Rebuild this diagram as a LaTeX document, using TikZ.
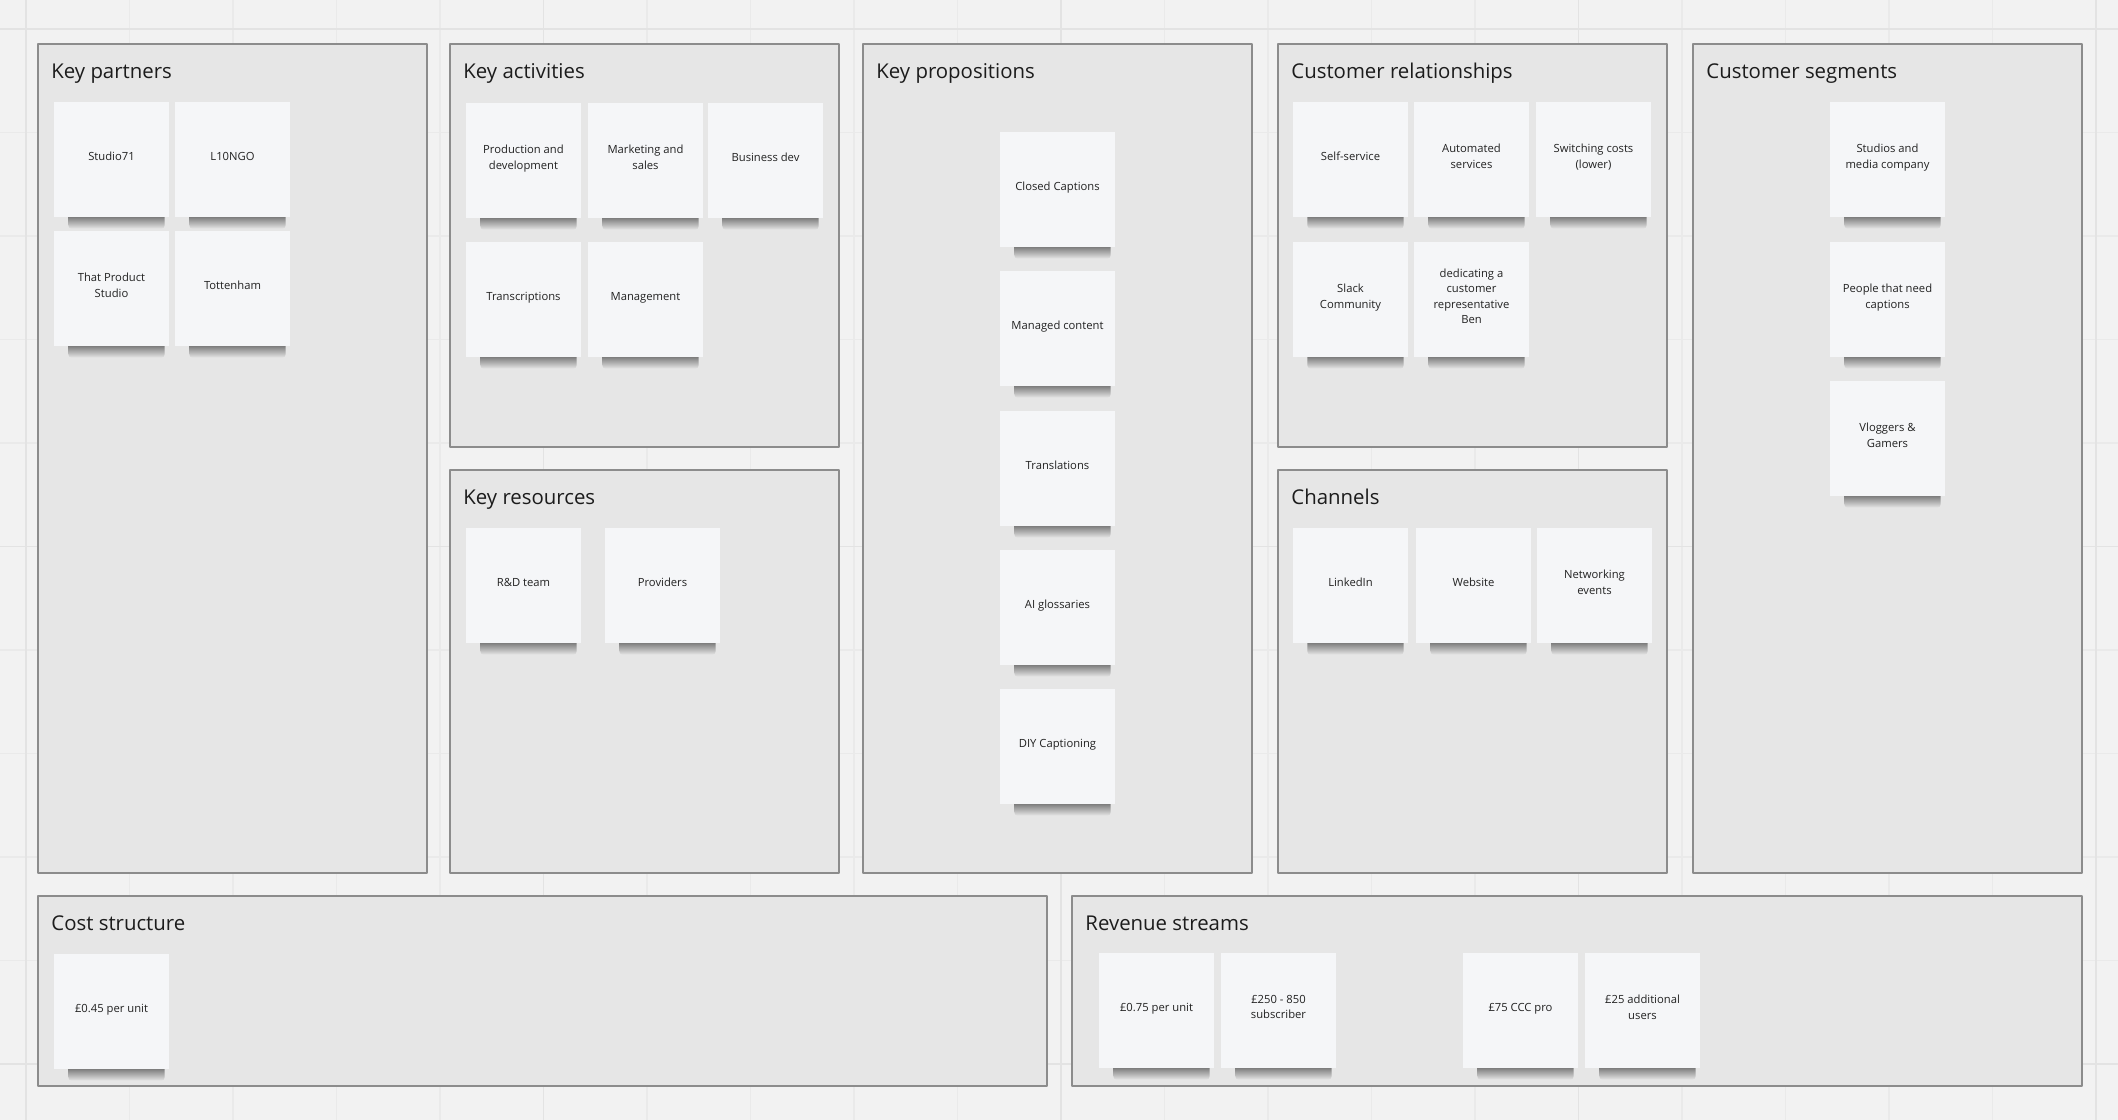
\documentclass[tikz,border=0pt]{standalone}
\usepackage{fontspec}
\setmainfont{Open Sans}

\definecolor{boardbg}{HTML}{F2F2F2}
\definecolor{gridminor}{HTML}{EAEAEA}
\definecolor{gridmajor}{HTML}{E3E3E3}
\definecolor{framefill}{HTML}{E6E6E6}
\definecolor{frameline}{HTML}{8C8C8C}
\definecolor{notefill}{HTML}{F5F6F8}
\definecolor{titletext}{HTML}{1C1C1C}
\definecolor{notetext}{HTML}{222222}

\pgfdeclarelayer{notes}
\pgfsetlayers{main,notes}

\begin{document}
\begin{tikzpicture}[x=1cm, y=-1cm, line join=round,
  frame/.style={fill=framefill, draw=frameline, line width=0.4pt},
  title/.style={anchor=base west, inner sep=0pt, text=titletext, font=\fontsize{5.8}{7}\selectfont},
  note/.style={fill=notefill, minimum width=1.15cm, minimum height=1.15cm, inner sep=0pt, align=center, text=notetext, font=\fontsize{3.2}{4.3}\selectfont, execute at end node={\rule[-0.065cm]{0pt}{0pt}}},
  noteshadow/.style={top color=black!62, bottom color=framefill, rounded corners=0.035cm}]

\useasboundingbox (0,0) rectangle (21.18,11.2);
\fill[boardbg] (0,0) rectangle (21.18,11.2);

% board grid
\foreach \i in {0,...,20}
  \draw[gridminor, line width=0.3pt] ({0.26+1.035*\i},0) -- ({0.26+1.035*\i},11.2);
\foreach \j in {0,...,10}
  \draw[gridminor, line width=0.3pt] (0,{0.29+1.035*\j}) -- (21.18,{0.29+1.035*\j});
\foreach \i in {0,...,4}
  \draw[gridmajor, line width=0.5pt] ({0.26+5.175*\i},0) -- ({0.26+5.175*\i},11.2);
\foreach \j in {0,1,2}
  \draw[gridmajor, line width=0.5pt] (0,{0.29+5.175*\j}) -- (21.18,{0.29+5.175*\j});

% canvas blocks
\draw[frame] (0.38,0.44) rectangle (4.27,8.73);
\draw[frame] (4.50,0.44) rectangle (8.39,4.47);
\draw[frame] (4.50,4.70) rectangle (8.39,8.73);
\draw[frame] (8.63,0.44) rectangle (12.52,8.73);
\draw[frame] (12.78,0.44) rectangle (16.67,4.47);
\draw[frame] (12.78,4.70) rectangle (16.67,8.73);
\draw[frame] (16.93,0.44) rectangle (20.82,8.73);
\draw[frame] (0.38,8.96) rectangle (10.47,10.86);
\draw[frame] (10.72,8.96) rectangle (20.82,10.86);

\node[title] (partnerstitle) at (0.507,0.783) {Key partners};
\node[title] (activitiestitle) at (4.627,0.783) {Key activities};
\node[title] (resourcestitle) at (4.627,5.043) {Key resources};
\node[title] (propositionstitle) at (8.757,0.783) {Key propositions};
\node[title] (relationstitle) at (12.907,0.783) {Customer relationships};
\node[title] (channelstitle) at (12.907,5.043) {Channels};
\node[title] (segmentstitle) at (17.057,0.783) {Customer segments};
\node[title] (coststitle) at (0.507,9.303) {Cost structure};
\node[title] (revenuetitle) at (10.847,9.303) {Revenue streams};

% sticky notes
\begin{pgfonlayer}{notes}
\node[note] (studio) at (1.115,1.595) {Studio71};
\node[note] (longo) at (2.325,1.595) {L10NGO};
\node[note] (thatprod) at (1.115,2.885) {That Product\\Studio};
\node[note] (tottenham) at (2.325,2.885) {Tottenham};

\node[note] (proddev) at (5.235,1.605) {Production and\\development};
\node[note] (marketing) at (6.455,1.605) {Marketing and\\sales};
\node[note] (bizdev) at (7.655,1.605) {Business dev};
\node[note] (transcr) at (5.235,2.995) {Transcriptions};
\node[note] (mgmt) at (6.455,2.995) {Management};

\node[note] (rdteam) at (5.235,5.855) {R\&D team};
\node[note] (providers) at (6.625,5.855) {Providers};

\node[note] (closedcap) at (10.575,1.895) {Closed Captions};
\node[note] (managed) at (10.575,3.285) {Managed content};
\node[note] (translations) at (10.575,4.685) {Translations};
\node[note] (glossaries) at (10.575,6.075) {AI glossaries};
\node[note] (diy) at (10.575,7.465) {DIY Captioning};

\node[note] (selfserv) at (13.505,1.595) {Self-service};
\node[note] (automated) at (14.715,1.595) {Automated\\services};
\node[note] (switching) at (15.935,1.595) {Switching costs\\(lower)};
\node[note] (slack) at (13.505,2.995) {Slack\\Community};
\node[note] (dedicated) at (14.715,2.995) {dedicating a\\customer\\representative\\Ben};

\node[note] (linkedin) at (13.505,5.855) {LinkedIn};
\node[note] (website) at (14.735,5.855) {Website};
\node[note] (networking) at (15.945,5.855) {Networking\\events};

\node[note] (studios) at (18.875,1.595) {Studios and\\media company};
\node[note] (captions) at (18.875,2.995) {People that need\\captions};
\node[note] (vloggers) at (18.875,4.385) {Vloggers \&\\Gamers};

\node[note] (unitcost) at (1.115,10.115) {£0.45 per unit};

\node[note] (unitprice) at (11.565,10.105) {£0.75 per unit};
\node[note] (subscriber) at (12.785,10.105) {£250 - 850\\subscriber};
\node[note] (cccpro) at (15.205,10.105) {£75 CCC pro};
\node[note] (extrausers) at (16.425,10.105) {£25 additional\\users};
\end{pgfonlayer}

% soft shadows under the notes
\foreach \n in {studio,longo,thatprod,tottenham,proddev,marketing,bizdev,transcr,mgmt,
  rdteam,providers,closedcap,managed,translations,glossaries,diy,selfserv,automated,
  switching,slack,dedicated,linkedin,website,networking,studios,captions,vloggers,
  unitcost,unitprice,subscriber,cccpro,extrausers}
  \shade[noteshadow] ([xshift=0.15cm,yshift=0.04cm]\n.south west) rectangle ([xshift=-0.05cm,yshift=-0.11cm]\n.south east);

\end{tikzpicture}
\end{document}
